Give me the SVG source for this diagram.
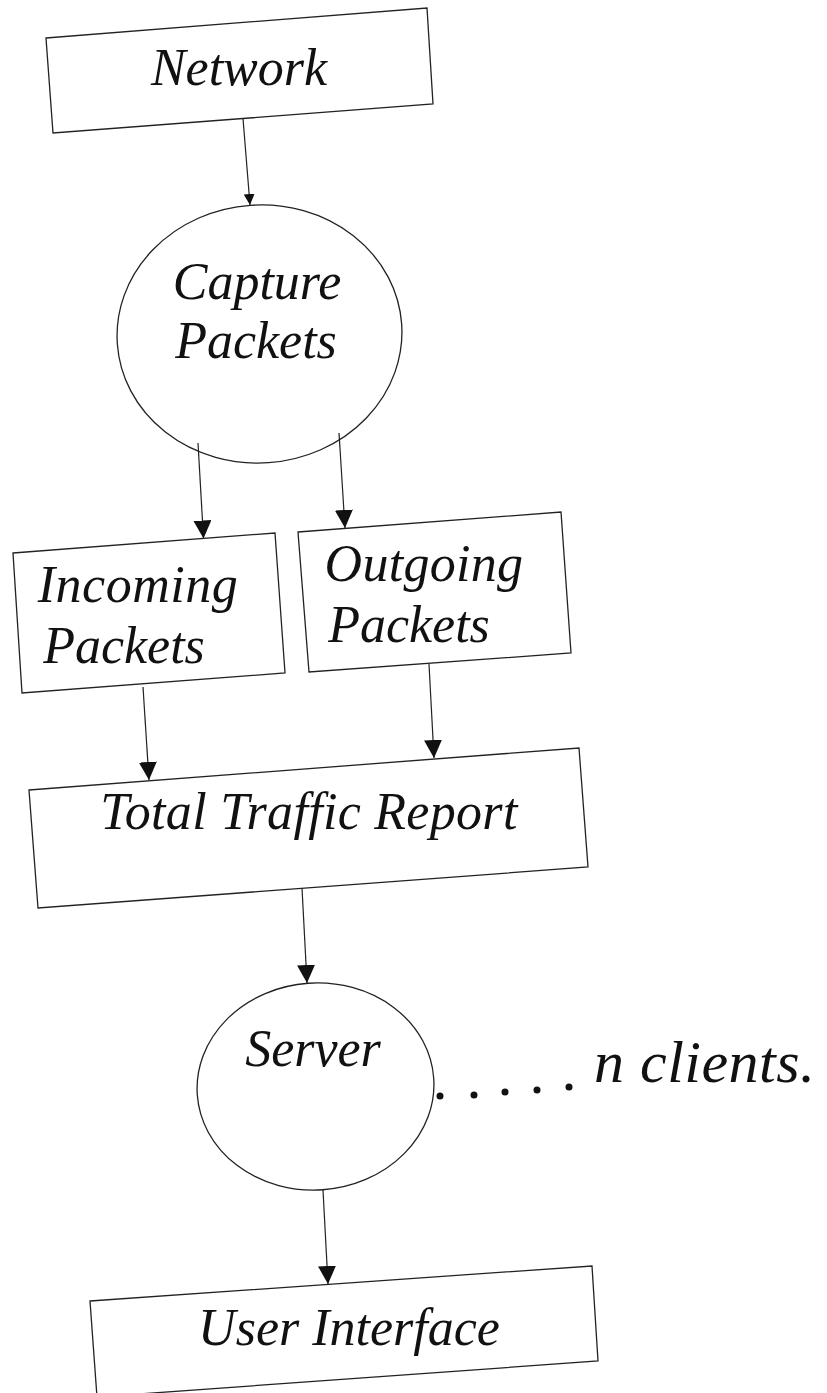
<svg xmlns="http://www.w3.org/2000/svg" width="827" height="1393" viewBox="0 0 827 1393">
  <style>
    .box { fill: none; stroke: #222; stroke-width: 1.3; stroke-linejoin: miter; }
    .node-shape { fill: none; stroke: #222; stroke-width: 1.3; }
    .conn { stroke: #222; stroke-width: 1.2; fill: none; }
    .dot { fill: #111; }
  </style>
  <defs>
    <marker id="arrow" viewBox="0 0 10 10" refX="10" refY="5" markerUnits="userSpaceOnUse" markerWidth="18" markerHeight="18" orient="auto">
      <path d="M0,0 L10,5 L0,10 z" fill="#111"/>
    </marker>
    <marker id="arrowS" viewBox="0 0 10 10" refX="10" refY="5" markerUnits="userSpaceOnUse" markerWidth="11" markerHeight="11" orient="auto">
      <path d="M0,0 L10,5 L0,10 z" fill="#111"/>
    </marker>
  </defs>
  <rect x="0" y="0" width="827" height="1393" fill="#fff"/>

  <g id="connectors">
    <line class="conn" x1="243" y1="118.5" x2="250" y2="205" marker-end="url(#arrowS)"/>
    <line class="conn" x1="198" y1="443" x2="203.5" y2="538.5" marker-end="url(#arrow)"/>
    <line class="conn" x1="339" y1="433" x2="345" y2="528" marker-end="url(#arrow)"/>
    <line class="conn" x1="143" y1="687" x2="149" y2="780" marker-end="url(#arrow)"/>
    <line class="conn" x1="429" y1="664" x2="434" y2="758" marker-end="url(#arrow)"/>
    <line class="conn" x1="302" y1="888" x2="307" y2="983" marker-end="url(#arrow)"/>
    <line class="conn" x1="323" y1="1190" x2="328" y2="1284" marker-end="url(#arrow)"/>
  </g>

  <g id="network">
    <polygon class="box" points="46,38 427,8 433,104 53,133"/>
    <text x="239" y="85" text-anchor="middle" font-family="'Liberation Serif'" font-style="italic" font-size="52" fill="#111">Network</text>
  </g>

  <g id="capture-packets">
    <ellipse class="node-shape" cx="259.5" cy="334" rx="142.5" ry="129" transform="rotate(-4 259.5 334)"/>
    <text x="257" y="299" text-anchor="middle" font-family="'Liberation Serif'" font-style="italic" font-size="52" fill="#111">Capture</text>
    <text x="256" y="358" text-anchor="middle" font-family="'Liberation Serif'" font-style="italic" font-size="52" fill="#111">Packets</text>
  </g>

  <g id="incoming-packets">
    <polygon class="box" points="13,553 275,533 285,673 22,693"/>
    <text x="138" y="602" text-anchor="middle" font-family="'Liberation Serif'" font-style="italic" font-size="52" fill="#111" letter-spacing="0.5">Incoming</text>
    <text x="124" y="663" text-anchor="middle" font-family="'Liberation Serif'" font-style="italic" font-size="52" fill="#111">Packets</text>
  </g>

  <g id="outgoing-packets">
    <polygon class="box" points="298,532 561,512 571,653 309,672"/>
    <text x="424" y="581" text-anchor="middle" font-family="'Liberation Serif'" font-style="italic" font-size="52" fill="#111" letter-spacing="0.3">Outgoing</text>
    <text x="409" y="642" text-anchor="middle" font-family="'Liberation Serif'" font-style="italic" font-size="52" fill="#111">Packets</text>
  </g>

  <g id="total-traffic-report">
    <polygon class="box" points="29,790 579,748 588,867 38,908"/>
    <text x="309" y="829" text-anchor="middle" font-family="'Liberation Serif'" font-style="italic" font-size="52" fill="#111" letter-spacing="0.3">Total Traffic Report</text>
  </g>

  <g id="server">
    <ellipse class="node-shape" cx="315.5" cy="1086.5" rx="118.5" ry="103.5" transform="rotate(-4 315.5 1086.5)"/>
    <text x="313" y="1066" text-anchor="middle" font-family="'Liberation Serif'" font-style="italic" font-size="52" fill="#111">Server</text>
  </g>

  <g id="n-clients">
    <circle class="dot" cx="440" cy="1096" r="3.5"/>
    <circle class="dot" cx="474" cy="1095" r="3.5"/>
    <circle class="dot" cx="505" cy="1092" r="3.5"/>
    <circle class="dot" cx="537" cy="1090" r="3.5"/>
    <circle class="dot" cx="569" cy="1087" r="3.5"/>
    <text x="594" y="1082" font-family="'Liberation Serif'" font-style="italic" font-size="60" fill="#111" letter-spacing="0.5">n clients.</text>
  </g>

  <g id="user-interface">
    <polygon class="box" points="90,1301 592,1266 598,1361 97,1397"/>
    <text x="349" y="1345" text-anchor="middle" font-family="'Liberation Serif'" font-style="italic" font-size="52" fill="#111">User Interface</text>
  </g>
</svg>
